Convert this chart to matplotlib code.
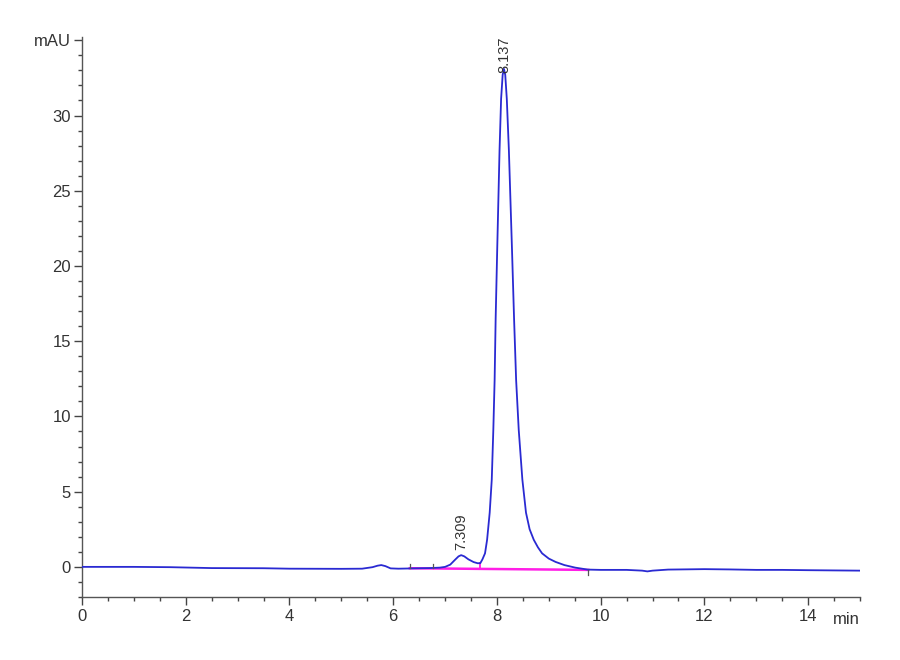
import matplotlib
matplotlib.use("Agg")
import matplotlib.pyplot as plt
from matplotlib.ticker import MultipleLocator, FixedLocator, FixedFormatter

plt.rcParams['font.family'] = ['Liberation Sans', 'DejaVu Sans']

# Chromatogram trace (time in min, signal in mAU)
time_min = [0.0, 1.0, 1.7, 2.5, 3.5, 4.0, 5.0, 5.4, 5.6, 5.7, 5.77, 5.85, 5.95,
            6.1, 6.4, 6.7, 6.9, 7.0, 7.1, 7.2, 7.26, 7.31, 7.37, 7.45, 7.55,
            7.63, 7.68, 7.72, 7.77, 7.81, 7.86, 7.90, 7.93, 7.955, 7.975,
            8.005, 8.05, 8.08, 8.11, 8.135, 8.16, 8.19, 8.23, 8.29, 8.33,
            8.37, 8.42, 8.49, 8.56, 8.63, 8.71, 8.79, 8.87, 9.0, 9.13, 9.3,
            9.51, 9.75, 10.0, 10.5, 10.8, 10.9, 11.0, 11.3, 12.0, 12.5, 13.0,
            13.5, 14.0, 15.0]
signal_mau = [0.0, 0.0, -0.02, -0.08, -0.09, -0.12, -0.13, -0.12, -0.02, 0.08,
              0.12, 0.05, -0.1, -0.12, -0.1, -0.08, -0.05, 0.0, 0.15, 0.5,
              0.7, 0.78, 0.7, 0.5, 0.32, 0.24, 0.25, 0.5, 0.9, 1.8, 3.6, 5.8,
              9.1, 12.4, 16.5, 21.1, 27.7, 31.1, 32.7, 33.1, 32.7, 31.1, 27.7,
              21.1, 16.5, 12.4, 9.1, 5.8, 3.6, 2.5, 1.8, 1.3, 0.9, 0.55, 0.33,
              0.12, -0.05, -0.18, -0.2, -0.2, -0.25, -0.3, -0.25, -0.18, -0.15,
              -0.17, -0.2, -0.2, -0.22, -0.25]

# integration baseline
baseline_t = [6.32, 9.76]
baseline_y = [-0.09, -0.2]
valley_t = 7.68
valley_y = 0.25
start_marks = [6.32, 6.76]
end_marks = [9.76]

# peak labels
peak_labels = ["7.309", "8.137"]
peak_t = [7.309, 8.137]
peak_y = [0.78, 33.1]

y_major = [0, 5, 10, 15, 20, 25, 30, 35]
y_labels = ["0", "5", "10", "15", "20", "25", "30", "mAU"]
x_major = [0, 2, 4, 6, 8, 10, 12, 14]

fig = plt.figure(figsize=(9, 6.6), dpi=100)
ax = fig.add_axes([0.0911, 0.0955, 0.8645, 0.848])

ax.plot(time_min, signal_mau, color='#2a2ad2', lw=1.3, zorder=3)
ax.plot(baseline_t, baseline_y, color='#ff1ee6', lw=1.8, zorder=2)
base_at_valley = baseline_y[0] + (baseline_y[1] - baseline_y[0]) * (valley_t - baseline_t[0]) / (baseline_t[1] - baseline_t[0])
ax.plot([valley_t, valley_t], [base_at_valley, valley_y], color='#ff1ee6', lw=1.3, zorder=2)
for t in start_marks:
    ax.plot([t, t], [-0.1, 0.2], color='#555555', lw=0.9, zorder=4)
for t in end_marks:
    ax.plot([t, t], [-0.2, -0.55], color='#555555', lw=0.9, zorder=4)

for lab, t, y in zip(peak_labels, peak_t, peak_y):
    off = 4 if y < 10 else -3
    ax.annotate(lab, (t, y), xytext=(0, off), textcoords='offset points',
                rotation=90, ha='center', va='bottom', fontsize=10.5,
                color='#333333', annotation_clip=False)

ax.set_xlim(0, 15)
ax.set_ylim(-2, 35.2)

for side in ['top', 'right']:
    ax.spines[side].set_visible(False)
for side in ['left', 'bottom']:
    ax.spines[side].set_color('#555555')
    ax.spines[side].set_linewidth(1.0)

ax.yaxis.set_major_locator(FixedLocator(y_major))
ax.yaxis.set_major_formatter(FixedFormatter(y_labels))
ax.yaxis.set_minor_locator(MultipleLocator(1))
ax.xaxis.set_major_locator(FixedLocator(x_major))
ax.xaxis.set_minor_locator(MultipleLocator(0.5))

ax.tick_params(axis='both', which='major', length=6, width=1.0, color='#444444',
               labelsize=12, labelcolor='#333333')
ax.tick_params(axis='both', which='minor', length=3, width=1.0, color='#444444')
ax.tick_params(axis='y', which='major', pad=2)
ax.tick_params(axis='x', which='major', pad=3)

ax.text(1.0, -0.026, "min", transform=ax.transAxes, ha='right', va='top',
        fontsize=12, color='#333333')

fig.savefig("out.png", dpi=100, facecolor='white')
